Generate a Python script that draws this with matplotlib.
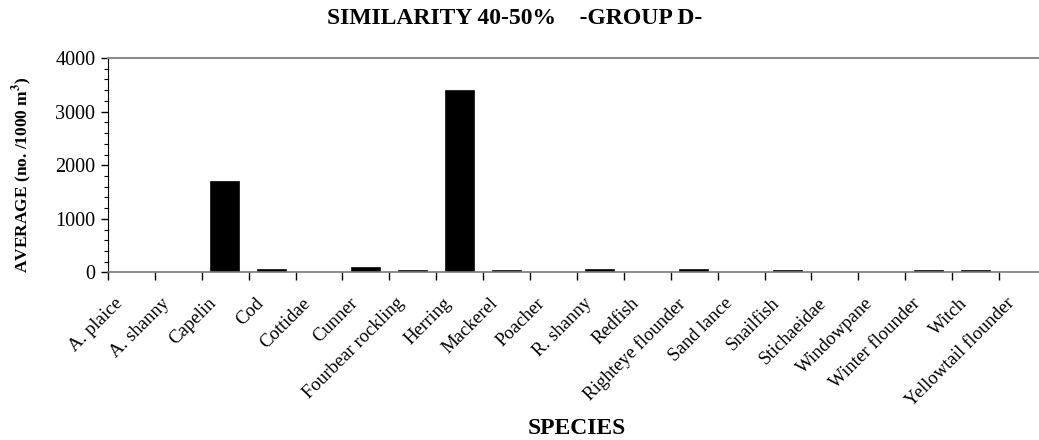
import numpy as np
import matplotlib
matplotlib.use('Agg')
import matplotlib.pyplot as plt
import matplotlib.transforms as mtransforms
from matplotlib.ticker import MultipleLocator

plt.rcParams['font.family'] = ['Liberation Serif', 'DejaVu Serif']
plt.rcParams['mathtext.fontset'] = 'stix'

# 数据
species = ['A. plaice', 'A. shanny', 'Capelin', 'Cod', 'Cottidae', 'Cunner',
           'Fourbear rockling', 'Herring', 'Mackerel', 'Poacher', 'R. shanny',
           'Redfish', 'Righteye flounder', 'Sand lance', 'Snailfish',
           'Stichaeidae', 'Windowpane', 'Winter flounder', 'Witch',
           'Yellowtail flounder']
average = [0, 0, 1680, 50, 0, 85,
           30, 3390, 20, 0, 45,
           0, 50, 0, 20,
           0, 0, 35, 25,
           0]

fig = plt.figure(figsize=(10.39, 4.4), dpi=100)
ax = fig.add_axes([0.1039, 0.3807, 0.9028, 0.4875])

x = np.arange(len(species))
# 零值的柱子不画边框
edges = ['black' if v > 0 else 'none' for v in average]
ax.bar(x, average, width=0.6, color='black', edgecolor=edges, linewidth=1.2)

ax.set_xlim(-0.5, len(species) - 0.5)
ax.set_ylim(0, 4000)
ax.yaxis.set_major_locator(MultipleLocator(1000))
ax.yaxis.set_minor_locator(MultipleLocator(200))

# 类别标签放在中间，刻度线放在分界处
ax.set_xticks(x)
ax.set_xticklabels(species, rotation=45, ha='right', fontsize=13.5)
ax.set_xticks(np.arange(-0.5, len(species)), minor=True)
ax.tick_params(axis='x', which='major', length=0, pad=16)
ax.tick_params(axis='x', which='minor', length=6, width=1, direction='out')
ax.tick_params(axis='y', which='major', length=5, width=1, direction='out', labelsize=14.5, pad=4)
ax.tick_params(axis='y', which='minor', length=3, width=0.8, direction='out')

# 标签稍微向左移
offset = mtransforms.ScaledTranslation(-5 / 100, 0, fig.dpi_scale_trans)
for lbl in ax.get_xticklabels():
    lbl.set_transform(lbl.get_transform() + offset)

ax.spines['right'].set_visible(False)
ax.spines['top'].set_color('#8c8c8c')
ax.spines['top'].set_linewidth(1.5)
ax.spines['bottom'].set_color('#7a7a7a')
ax.spines['bottom'].set_linewidth(1.2)
ax.spines['left'].set_color('black')

fig.text(0.4957, 0.959, 'SIMILARITY 40-50%    -GROUP D-', ha='center', va='center',
         fontsize=17, fontweight='bold')
fig.text(0.5553, 0.027, 'SPECIES', ha='center', va='center',
         fontsize=17, fontweight='bold')
fig.text(0.021, 0.602, r'AVERAGE (no. /1000 m$^{\mathbf{3}}$)', ha='center', va='center',
         rotation=90, fontsize=12.5, fontweight='bold')

fig.savefig('out.png', dpi=100)
